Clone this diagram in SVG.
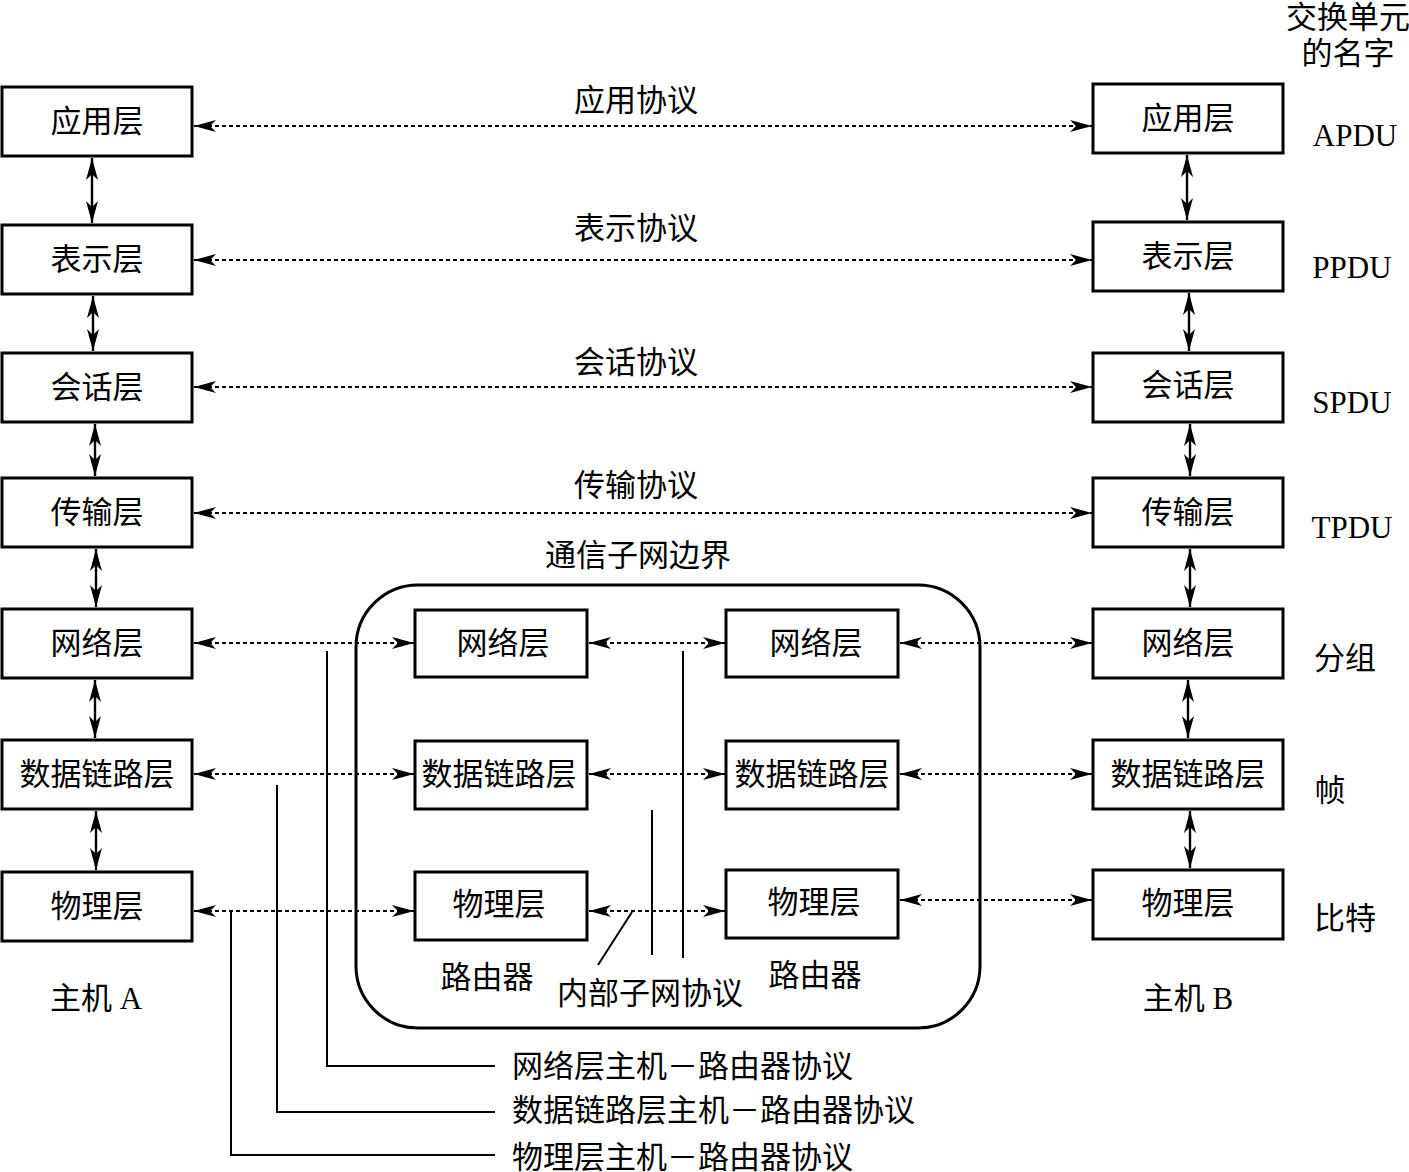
<svg xmlns="http://www.w3.org/2000/svg" width="1409" height="1172" viewBox="0 0 1409 1172">
<defs>
<marker id="ah" viewBox="0 0 22 12" refX="22" refY="6" markerWidth="22" markerHeight="12" markerUnits="userSpaceOnUse" orient="auto-start-reverse">
<path d="M0,0 L22,6 L0,12 L6,6 z" fill="#000"/>
</marker>
</defs>
<style>
.box{fill:#fff;stroke:#000;stroke-width:3}
.t{font-family:"Liberation Serif","Noto Sans CJK SC",serif;font-size:31px;text-anchor:middle;dominant-baseline:central;fill:#000}
.tl{font-family:"Liberation Serif","Noto Sans CJK SC",serif;font-size:31px;dominant-baseline:central;fill:#000}
.d{stroke:#000;stroke-width:1.8;stroke-dasharray:4,3;fill:none;marker-start:url(#ah);marker-end:url(#ah)}
.v{stroke:#000;stroke-width:2.4;fill:none;marker-start:url(#ah);marker-end:url(#ah)}
.l{stroke:#000;stroke-width:2;fill:none}
</style>
<rect width="1409" height="1172" fill="#fff"/>
<g id="subnet-boundary">
<rect x="356" y="585" width="624" height="443" rx="62" ry="62" fill="none" stroke="#000" stroke-width="3"/>
<text class="t" x="638" y="555">通信子网边界</text>
</g>
<g id="hostA-app"><rect class="box" x="2" y="87" width="190" height="69"/><text class="t" x="97" y="121">应用层</text></g>
<g id="hostA-pres"><rect class="box" x="2" y="225" width="190" height="69"/><text class="t" x="97" y="259">表示层</text></g>
<g id="hostA-sess"><rect class="box" x="2" y="353" width="190" height="69"/><text class="t" x="97" y="387">会话层</text></g>
<g id="hostA-trans"><rect class="box" x="2" y="478" width="190" height="69"/><text class="t" x="97" y="512">传输层</text></g>
<g id="hostA-net"><rect class="box" x="2" y="609" width="190" height="69"/><text class="t" x="97" y="643">网络层</text></g>
<g id="hostA-link"><rect class="box" x="2" y="740" width="190" height="69"/><text class="t" x="97" y="774">数据链路层</text></g>
<g id="hostA-phys"><rect class="box" x="2" y="872" width="190" height="69"/><text class="t" x="97" y="906">物理层</text></g>
<g id="hostB-app"><rect class="box" x="1093" y="84" width="190" height="69"/><text class="t" x="1188" y="118">应用层</text></g>
<g id="hostB-pres"><rect class="box" x="1093" y="222" width="190" height="69"/><text class="t" x="1188" y="256">表示层</text></g>
<g id="hostB-sess"><rect class="box" x="1093" y="353" width="190" height="69"/><text class="t" x="1188" y="385">会话层</text></g>
<g id="hostB-trans"><rect class="box" x="1093" y="478" width="190" height="69"/><text class="t" x="1188" y="512">传输层</text></g>
<g id="hostB-net"><rect class="box" x="1093" y="609" width="190" height="69"/><text class="t" x="1188" y="643">网络层</text></g>
<g id="hostB-link"><rect class="box" x="1093" y="740" width="190" height="69"/><text class="t" x="1188" y="774">数据链路层</text></g>
<g id="hostB-phys"><rect class="box" x="1093" y="870" width="190" height="69"/><text class="t" x="1188" y="903">物理层</text></g>
<g id="r1-net"><rect class="box" x="415" y="610" width="172" height="67"/><text class="t" x="503" y="643">网络层</text></g>
<g id="r1-link"><rect class="box" x="415" y="741" width="172" height="68"/><text class="t" x="499" y="774">数据链路层</text></g>
<g id="r1-phys"><rect class="box" x="415" y="872" width="172" height="68"/><text class="t" x="499" y="904">物理层</text></g>
<g id="r2-net"><rect class="box" x="726" y="610" width="172" height="67"/><text class="t" x="816" y="643">网络层</text></g>
<g id="r2-link"><rect class="box" x="726" y="741" width="172" height="68"/><text class="t" x="812" y="774">数据链路层</text></g>
<g id="r2-phys"><rect class="box" x="726" y="870" width="172" height="68"/><text class="t" x="814" y="902">物理层</text></g>
<g id="connectors">
<line class="d" x1="194" y1="126" x2="1092" y2="126"/>
<line class="d" x1="194" y1="260" x2="1092" y2="260"/>
<line class="d" x1="194" y1="387" x2="1092" y2="387"/>
<line class="d" x1="194" y1="513" x2="1092" y2="513"/>
<line class="d" x1="194" y1="643" x2="414" y2="643"/>
<line class="d" x1="589" y1="643" x2="725" y2="643"/>
<line class="d" x1="900" y1="643" x2="1092" y2="643"/>
<line class="d" x1="194" y1="774" x2="414" y2="774"/>
<line class="d" x1="589" y1="774" x2="725" y2="774"/>
<line class="d" x1="900" y1="774" x2="1092" y2="774"/>
<line class="d" x1="194" y1="911" x2="414" y2="911"/>
<line class="d" x1="589" y1="911" x2="725" y2="911"/>
<line class="d" x1="900" y1="900" x2="1092" y2="900"/>
<line class="v" x1="92" y1="158" x2="92" y2="223"/>
<line class="v" x1="93" y1="296" x2="93" y2="351"/>
<line class="v" x1="95" y1="424" x2="95" y2="476"/>
<line class="v" x1="96" y1="549" x2="96" y2="607"/>
<line class="v" x1="95" y1="680" x2="95" y2="738"/>
<line class="v" x1="96" y1="811" x2="96" y2="870"/>
<line class="v" x1="1187" y1="155" x2="1187" y2="220"/>
<line class="v" x1="1189" y1="293" x2="1189" y2="351"/>
<line class="v" x1="1190" y1="424" x2="1190" y2="476"/>
<line class="v" x1="1190" y1="549" x2="1190" y2="607"/>
<line class="v" x1="1188" y1="680" x2="1188" y2="738"/>
<line class="v" x1="1190" y1="811" x2="1190" y2="868"/>
<polyline class="l" points="327,651 327,1066 495,1066"/>
<polyline class="l" points="277,785 277,1112 495,1112"/>
<polyline class="l" points="231,912 231,1155 495,1155"/>
<line class="l" x1="683" y1="651" x2="683" y2="958"/>
<line class="l" x1="652" y1="810" x2="652" y2="955"/>
<line class="l" x1="632" y1="912" x2="598" y2="965"/>
</g>
<g id="labels">
<text class="t" x="636" y="100">应用协议</text>
<text class="t" x="636" y="228">表示协议</text>
<text class="t" x="636" y="362">会话协议</text>
<text class="t" x="636" y="485">传输协议</text>
<text class="t" x="487" y="977">路由器</text>
<text class="t" x="815" y="975">路由器</text>
<text class="t" x="650" y="993">内部子网协议</text>
<text class="t" x="96" y="998">主机 A</text>
<text class="t" x="1188" y="998">主机 B</text>
<text class="tl" x="512" y="1066">网络层主机－路由器协议</text>
<text class="tl" x="512" y="1110">数据链路层主机－路由器协议</text>
<text class="tl" x="512" y="1157">物理层主机－路由器协议</text>
<text class="t" x="1348" y="17">交换单元</text>
<text class="t" x="1348" y="53">的名字</text>
<text class="t" x="1355" y="135">APDU</text>
<text class="t" x="1352" y="267">PPDU</text>
<text class="t" x="1352" y="402">SPDU</text>
<text class="t" x="1352" y="527">TPDU</text>
<text class="t" x="1345" y="658">分组</text>
<text class="t" x="1330" y="790">帧</text>
<text class="t" x="1345" y="918">比特</text>
</g>
</svg>
